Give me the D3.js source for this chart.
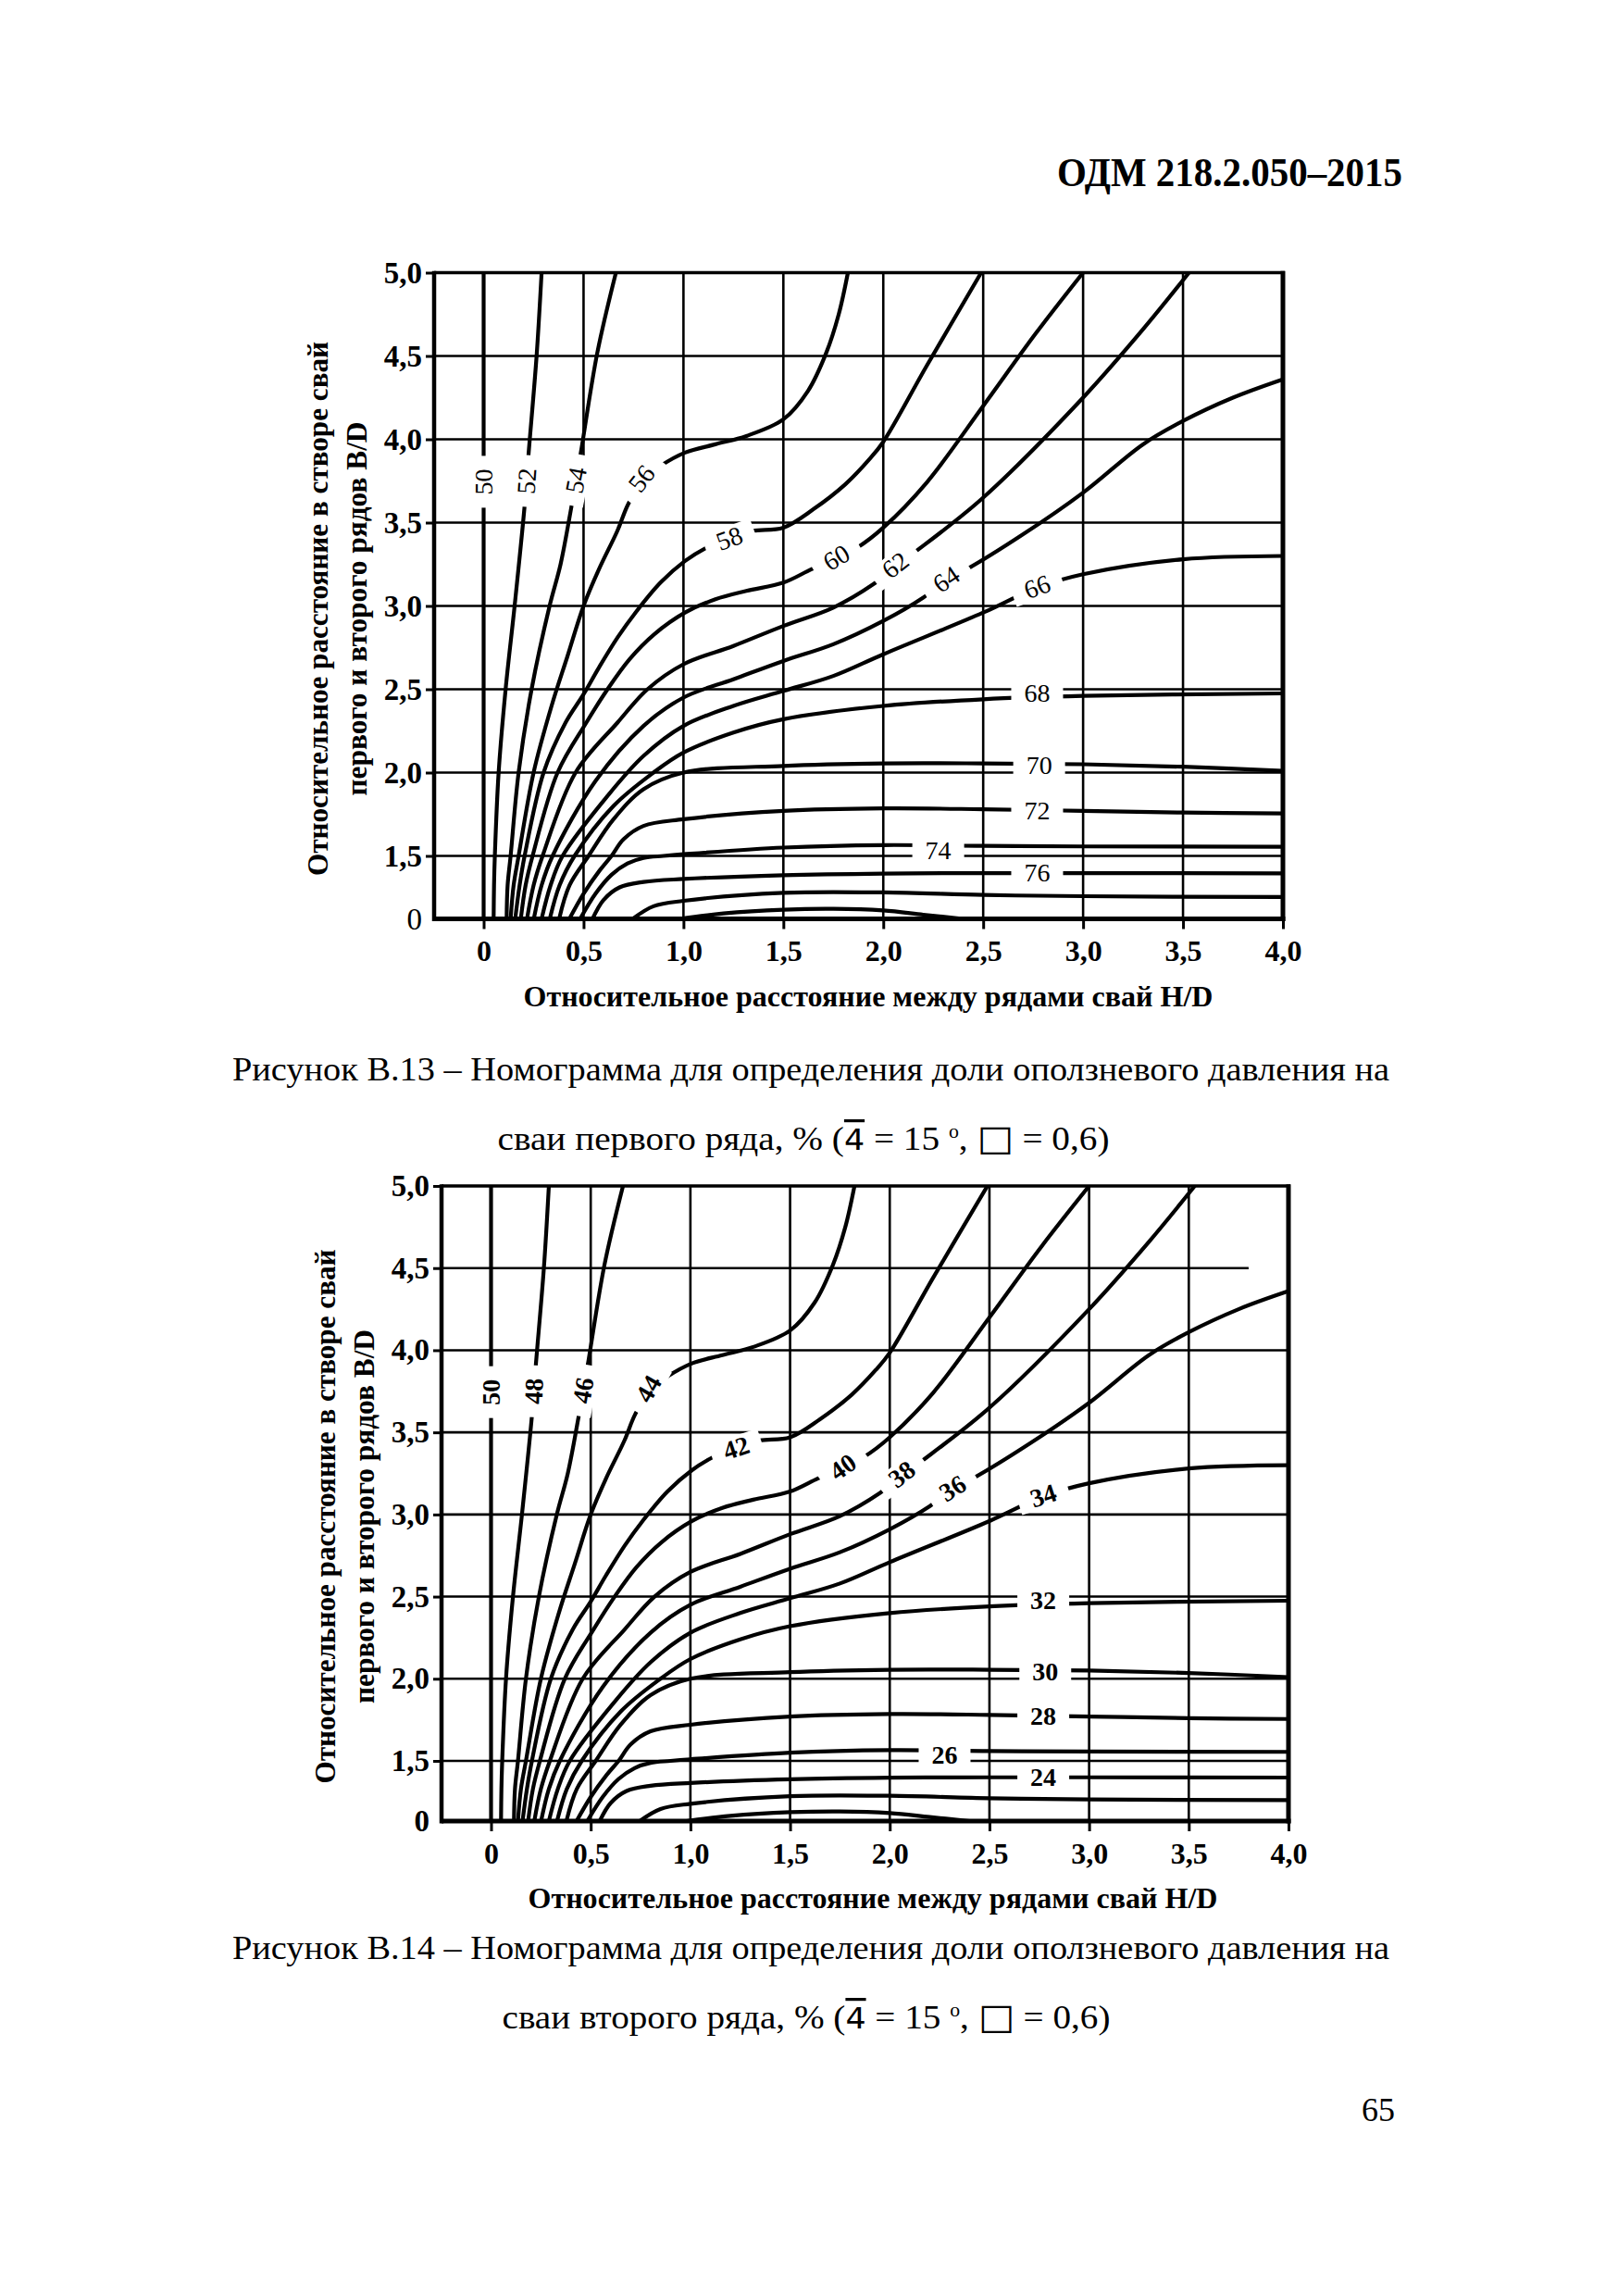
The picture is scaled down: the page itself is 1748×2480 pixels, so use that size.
<!DOCTYPE html>
<html><head><meta charset="utf-8">
<script src="https://cdn.jsdelivr.net/npm/d3@7"></script>
<style>
body{margin:0;background:#fff}
svg{display:block}
text{font-family:"Liberation Serif","Times New Roman",serif;fill:#000}
</style></head><body>
<svg id="page" width="1748" height="2480"></svg>
<script>
// ---------- data ----------
const xTicks=[0,0.5,1,1.5,2,2.5,3,3.5,4];
const xTickLabels=["0","0,5","1,0","1,5","2,0","2,5","3,0","3,5","4,0"];
const yTicks=[0,1.5,2,2.5,3,3.5,4,4.5,5];
const yTickLabels=["0","1,5","2,0","2,5","3,0","3,5","4,0","4,5","5,0"];
const xGrid=[0,0.5,1,1.5,2,2.5,3,3.5];
const yGrid=[1.5,2,2.5,3,3.5,4,4.5];

// contour lines, [H/D, B/D] (B/D axis is broken below 1,5)
const c50=[[0,0],[0,5]];
const c52=[[0.05,0],[0.052,0.8],[0.056,1.5],[0.075,2.0],[0.11,2.5],[0.155,3.0],[0.205,3.6],[0.224,3.9],[0.265,4.5],[0.29,5.0]];
const c54=[[0.115,0],[0.12,0.8],[0.135,1.5],[0.175,2.0],[0.24,2.5],[0.33,3.0],[0.385,3.25],[0.44,3.6],[0.485,3.91],[0.569,4.52],[0.662,5.0]];
const c56=[[0.135,0],[0.15,0.8],[0.175,1.5],[0.25,2.0],[0.34,2.4],[0.42,2.7],[0.5,3.0],[0.577,3.22],[0.669,3.45],[0.723,3.61],[0.8,3.76],[0.885,3.84],[1.008,3.92],[1.16,3.97],[1.315,4.02],[1.5,4.12],[1.623,4.29],[1.715,4.52],[1.777,4.75],[1.823,5.0]];
const c58=[[0.158,0],[0.18,0.8],[0.205,1.5],[0.3,2.0],[0.41,2.3],[0.5,2.47],[0.577,2.63],[0.67,2.81],[0.76,2.96],[0.885,3.14],[1.008,3.27],[1.115,3.35],[1.23,3.41],[1.346,3.45],[1.5,3.47],[1.65,3.58],[1.81,3.73],[1.93,3.88],[2.0,3.985],[2.217,4.44],[2.49,5.0]];
const c60=[[0.186,0],[0.21,0.8],[0.245,1.5],[0.37,2.0],[0.514,2.3],[0.62,2.5],[0.73,2.68],[0.854,2.83],[1.008,2.96],[1.16,3.04],[1.315,3.09],[1.5,3.14],[1.64,3.22],[1.77,3.29],[1.87,3.35],[2.0,3.47],[2.217,3.74],[2.5,4.2],[2.76,4.63],[3.0,5.0]];
const c62=[[0.217,0],[0.25,0.8],[0.295,1.5],[0.46,2.0],[0.67,2.3],[0.82,2.5],[1.0,2.65],[1.25,2.76],[1.5,2.88],[1.75,2.99],[1.95,3.13],[2.065,3.24],[2.155,3.32],[2.5,3.65],[3.0,4.25],[3.3,4.66],[3.53,5.0]];
const c64=[[0.251,0],[0.29,0.8],[0.345,1.5],[0.56,1.95],[0.8,2.28],[1.0,2.45],[1.25,2.56],[1.5,2.67],[1.75,2.77],[2.0,2.91],[2.2,3.05],[2.32,3.16],[2.418,3.22],[2.7,3.43],[3.0,3.68],[3.3,3.97],[3.5,4.11],[3.75,4.25],[4.0,4.36]];
const c66=[[0.29,0],[0.335,0.8],[0.395,1.5],[0.62,1.86],[0.8,2.1],[1.0,2.28],[1.25,2.4],[1.5,2.49],[1.75,2.58],[2.0,2.71],[2.5,2.96],[2.77,3.11],[3.0,3.19],[3.5,3.28],[4.0,3.30]];
const c68=[[0.331,0],[0.38,0.8],[0.455,1.5],[0.65,1.8],[0.85,2.0],[1.0,2.12],[1.25,2.24],[1.5,2.32],[2.0,2.40],[2.5,2.44],[3.0,2.46],[4.0,2.475]];
const c70=[[0.378,0],[0.43,0.8],[0.525,1.5],[0.65,1.72],[0.8,1.9],[1.0,2.0],[1.5,2.04],[2.0,2.055],[2.5,2.055],[3.0,2.05],[3.5,2.035],[4.0,2.01]];
const c72=[[0.429,0],[0.5,0.6],[0.58,1.15],[0.64,1.5],[0.7,1.6],[0.8,1.68],[1.0,1.72],[1.5,1.77],[2.0,1.785],[2.5,1.78],[3.0,1.77],[3.5,1.76],[4.0,1.755]];
const c74=[[0.483,0],[0.56,0.6],[0.64,1.05],[0.72,1.32],[0.8,1.45],[0.9,1.5],[1.0,1.51],[1.5,1.55],[2.0,1.565],[2.5,1.56],[3.0,1.557],[4.0,1.555]];
const c76=[[0.545,0],[0.6,0.45],[0.68,0.75],[0.8,0.88],[1.0,0.95],[1.5,1.04],[2.0,1.08],[2.5,1.09],[3.0,1.09],[4.0,1.085]];
const c78=[[0.746,0],[0.85,0.3],[1.0,0.43],[1.5,0.62],[2.0,0.63],[2.5,0.57],[3.0,0.54],[4.0,0.52]];
const c80=[[0.98,0],[1.2,0.13],[1.5,0.22],[1.75,0.24],[2.0,0.2],[2.2,0.1],[2.4,0]];
const contours=[c50,c52,c54,c56,c58,c60,c62,c64,c66,c68,c70,c72,c74,c76,c78,c80];

const levelsTop=[50,52,54,56,58,60,62,64,66,68,70,72,74,76];
const levelsBottom=[50,48,46,44,42,40,38,36,34,32,30,28,26,24];
// label anchor (data units) and text angle
const labelX=[0,0.215,0.462,0.79,1.23,1.765,2.06,2.315,2.77,2.77,2.78,2.77,2.275,2.77];
const labelY=[3.745,3.75,3.755,3.765,3.405,3.29,3.245,3.16,3.115,2.48,2.045,1.772,1.535,1.095];
const labelAngleTop=[-90,-86,-79,-52,-20,-30,-38,-34,-20,0,0,0,0,0];
const labelAngleBottom=[-90,-88,-80,-60,-18,-35,-38,-32,-18,0,0,0,0,0];

const caption1Top="Рисунок В.13 – Номограмма для определения доли оползневого давления на";
const caption2Top="сваи первого ряда, % (";
const caption1Bot="Рисунок В.14 – Номограмма для определения доли оползневого давления на";
const caption2Bot="сваи второго ряда, % (";
const yTitle1="Относительное расстояние в створе свай";
const yTitle2="первого и второго рядов B/D";
const xTitle="Относительное расстояние между рядами свай H/D";

// ---------- drawing ----------
const svg=d3.select("#page");
svg.append("rect").attr("width",1748).attr("height",2480).attr("fill","#fff");

svg.append("text").attr("x",1515).attr("y",201).attr("text-anchor","end")
  .attr("font-size",45).attr("font-weight","bold").attr("textLength",373).attr("lengthAdjust","spacingAndGlyphs")
  .text("ОДМ 218.2.050–2015");

function drawChart(cfg,id){
  const g=svg.append("g");
  const x=d3.scaleLinear().domain([0,4]).range([cfg.x0,cfg.x4]);
  const y=d3.scaleLinear().domain([0,1.5,5]).range([cfg.yBot,cfg.y15,cfg.yTop]);
  const L=cfg.axisLeft, R=x(4);

  g.append("clipPath").attr("id","clip"+id).append("rect")
    .attr("x",L).attr("y",y(5)).attr("width",R-L).attr("height",y(0)-y(5));

  // grid
  g.selectAll(".vg").data(xGrid).join("line").attr("class","vg")
    .attr("x1",d=>x(d)).attr("x2",d=>x(d)).attr("y1",y(0)).attr("y2",y(5))
    .attr("stroke","#000").attr("stroke-width",2.6);
  g.selectAll(".hg").data(yGrid).join("line").attr("class","hg")
    .attr("x1",L).attr("x2",d=>(cfg.short45 && d===4.5)?x(3.8):R).attr("y1",d=>y(d)).attr("y2",d=>y(d))
    .attr("stroke","#000").attr("stroke-width",2.6);

  // contours
  const line=d3.line().x(d=>x(d[0])).y(d=>y(d[1])).curve(d3.curveCatmullRom.alpha(0.5));
  g.append("g").attr("clip-path",`url(#clip${id})`)
    .selectAll("path").data(contours).join("path")
    .attr("d",line).attr("fill","none").attr("stroke","#000").attr("stroke-width",4.2);

  // contour labels with gaps
  const lab=g.selectAll(".lab").data(cfg.levels).join("g").attr("class","lab")
    .attr("transform",(d,i)=>`translate(${x(labelX[i])},${y(labelY[i])}) rotate(${cfg.angles[i]})`);
  lab.append("rect").attr("x",-28).attr("y",-13).attr("width",56).attr("height",26).attr("fill","#fff");
  lab.append("text").attr("text-anchor","middle").attr("dominant-baseline","central")
    .attr("font-size",28).attr("font-weight",cfg.labelBold?"bold":"normal").text(d=>d);

  // frame
  const fr=g.append("g").attr("stroke","#000").attr("fill","none");
  fr.append("line").attr("x1",L).attr("x2",R+2).attr("y1",y(5)).attr("y2",y(5)).attr("stroke-width",3.6);
  fr.append("line").attr("x1",L).attr("x2",R+2.5).attr("y1",y(0)).attr("y2",y(0)).attr("stroke-width",5);
  fr.append("line").attr("x1",L).attr("x2",L).attr("y1",y(5)-1.8).attr("y2",y(0)+2.5).attr("stroke-width",4.5);
  fr.append("line").attr("x1",R).attr("x2",R).attr("y1",y(5)-1.8).attr("y2",y(0)+2.5).attr("stroke-width",5);

  // axes
  const ax=g.append("g").attr("transform",`translate(0,${y(0)})`)
    .call(d3.axisBottom(x).tickValues(xTicks).tickFormat((d,i)=>xTickLabels[i]).tickSize(11).tickPadding(12));
  ax.select(".domain").remove();
  ax.selectAll("line").attr("stroke","#000").attr("stroke-width",3);
  ax.selectAll("text").attr("font-size",32).attr("font-weight","bold")
    .attr("font-family","Liberation Serif").attr("fill","#000");

  const ay=g.append("g").attr("transform",`translate(${L},0)`)
    .call(d3.axisLeft(y).tickValues(yTicks).tickFormat((d,i)=>yTickLabels[i]).tickSize(9).tickPadding(4));
  ay.select(".domain").remove();
  ay.selectAll("line").attr("stroke","#000").attr("stroke-width",3);
  ay.selectAll(".tick").filter(d=>d===0).select("line").remove();
  ay.selectAll("text").attr("font-size",33).attr("font-weight",d=>(d===0&&!cfg.zeroBold)?"normal":"bold")
    .attr("font-family","Liberation Serif").attr("fill","#000");

  // axis titles
  const yc=(y(0)+y(5))/2+14;
  g.append("text").attr("transform",`translate(${L-115},${yc}) rotate(-90)`).attr("text-anchor","middle")
    .attr("font-size",32).attr("font-weight","bold").attr("textLength",577).attr("lengthAdjust","spacingAndGlyphs").text(yTitle1);
  g.append("text").attr("transform",`translate(${L-73},${yc}) rotate(-90)`).attr("text-anchor","middle")
    .attr("font-size",32).attr("font-weight","bold").attr("textLength",404).attr("lengthAdjust","spacingAndGlyphs").text(yTitle2);
  g.append("text").attr("x",cfg.xTitleX).attr("y",y(0)+94).attr("text-anchor","middle")
    .attr("font-size",31).attr("font-weight","bold").attr("textLength",745).attr("lengthAdjust","spacingAndGlyphs").text(xTitle);

  // captions
  g.append("text").attr("x",876).attr("y",cfg.cap1Y).attr("text-anchor","middle").attr("font-size",36)
    .attr("textLength",1250).attr("lengthAdjust","spacingAndGlyphs").text(cfg.cap1);
  const t2=g.append("text").attr("x",cfg.cap2X).attr("y",cfg.cap2Y).attr("text-anchor","middle").attr("font-size",36)
    .attr("textLength",cfg.cap2Len).attr("lengthAdjust","spacingAndGlyphs");
  t2.append("tspan").text(cfg.cap2);
  t2.append("tspan").attr("font-family","DejaVu Sans").attr("font-size",32).attr("text-decoration","overline").text("4");
  t2.append("tspan").text(" = 15 ");
  t2.append("tspan").attr("font-size",20).attr("dy",-13).text("o");
  t2.append("tspan").attr("dy",13).text(", ");
  t2.append("tspan").attr("font-family","DejaVu Sans").attr("font-size",38).text("□");
  t2.append("tspan").text("  = 0,6)");
}

drawChart({x0:522.5,x4:1386,yTop:294.5,y15:924.5,yBot:992.5,axisLeft:469,levels:levelsTop,angles:labelAngleTop,labelBold:false,zeroBold:false,
  xTitleX:938,cap1:caption1Top,cap1Y:1167,cap2:caption2Top,cap2X:868,cap2Y:1242,cap2Len:661,short45:false},"A");
drawChart({x0:530.5,x4:1392,yTop:1281,y15:1902,yBot:1967,axisLeft:477,levels:levelsBottom,angles:labelAngleBottom,labelBold:true,zeroBold:true,
  xTitleX:943,cap1:caption1Bot,cap1Y:2116,cap2:caption2Bot,cap2X:871,cap2Y:2191,cap2Len:657,short45:true},"B");

svg.append("text").attr("x",1489).attr("y",2291).attr("text-anchor","middle").attr("font-size",36).text("65");
</script>
</body></html>
